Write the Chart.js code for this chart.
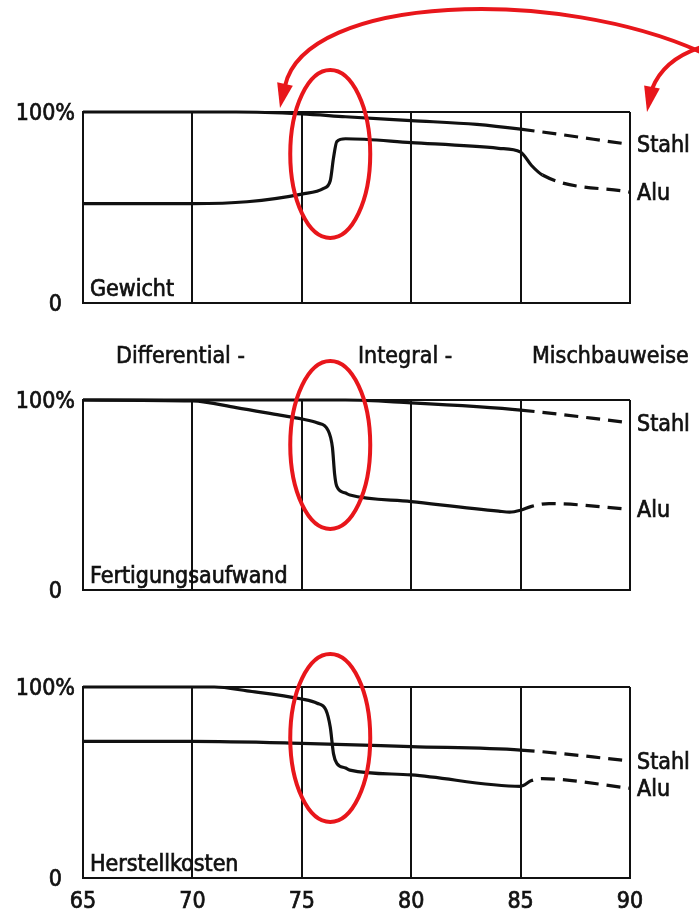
<!DOCTYPE html>
<html>
<head>
<meta charset="utf-8">
<script src="https://cdn.jsdelivr.net/npm/chart.js@4/dist/chart.umd.min.js"></script>
<style>
html, body { margin: 0; padding: 0; background: #fff; }
#wrap { position: relative; width: 699px; height: 915px; overflow: hidden; background: #fff; }
canvas { position: absolute; left: 0; top: 0; }
.mid { position: absolute; top: 340px; font: 23px "DejaVu Sans Condensed", "Liberation Sans Narrow", "DejaVu Sans", sans-serif; color: #111; white-space: nowrap; line-height: 30px; -webkit-text-stroke: 0.6px #111; }
</style>
</head>
<body>
<div id="wrap">
  <canvas id="gewicht" width="699" height="915"></canvas>
  <canvas id="fertigung" width="699" height="915"></canvas>
  <canvas id="herstell" width="699" height="915"></canvas>
  <canvas id="marks" width="699" height="915"></canvas>
  <div class="mid" style="left:116px">Differential -</div>
  <div class="mid" style="left:358px">Integral -</div>
  <div class="mid" style="left:532px">Mischbauweise</div>
</div>
<script>
// values (percent of the 1965 level)
const xTicks = [65, 70, 75, 80, 85, 90];

const gewichtStahlYears = [65, 72, 75, 77, 80, 83, 85, 90];
const gewichtStahl = [100, 100, 99, 97.5, 95.5, 93.5, 91, 83];
const gewichtAluYears = [65, 70, 72.5, 75, 76, 76.3, 76.45, 76.6, 77, 80, 84, 85, 85.5, 86, 90];
const gewichtAlu = [52, 52, 53, 57, 60, 64, 76, 84.5, 86, 84, 81, 79, 72, 67, 58];

const fertigungStahlYears = [65, 77, 80, 83, 85, 90];
const fertigungStahl = [100, 100, 98.5, 96.5, 94.7, 88];
const fertigungAluYears = [65, 70, 72, 74, 75, 75.7, 76.2, 76.4, 76.5, 76.6, 77, 77.2, 80, 84, 84.5, 85, 85.5, 86.3, 90];
const fertigungAlu = [100, 99.5, 96, 92, 90, 88, 84, 75, 61, 54.5, 51, 50, 46.5, 41.5, 41, 42, 44, 45.5, 42.5];

const herstellStahlYears = [65, 70, 75, 80, 85, 90];
const herstellStahl = [71.5, 71.5, 70.5, 68.8, 67, 61.3];
const herstellAluYears = [65, 71, 72.5, 75, 75.7, 76.1, 76.3, 76.45, 76.6, 77, 77.2, 80, 85, 85.5, 86, 90];
const herstellAlu = [100, 100, 98, 93.7, 91.5, 88, 79, 65, 60, 57.6, 56.5, 54, 48, 51, 52, 47];

const FONT = '"DejaVu Sans Condensed", "Liberation Sans Narrow", "DejaVu Sans", sans-serif';
const INK = '#111';
const RED = '#e8161b';

Chart.defaults.animation = false;
Chart.defaults.font.family = FONT;
Chart.defaults.color = INK;

function toPoints(xs, ys) {
    return xs.map((x, i) => ({ x: x, y: ys[i] }));
}

// title inside the box, Stahl/Alu at the line ends, red ring round the jump
const decorPlugin = {
    id: 'decor',
    afterDatasetsDraw(chart, args, opts) {
        const { ctx, chartArea, scales } = chart;
        ctx.save();
        ctx.font = '23px ' + FONT;
        ctx.fillStyle = INK;
        ctx.strokeStyle = INK;
        ctx.lineWidth = 0.7;
        ctx.textAlign = 'left';
        ctx.textBaseline = 'alphabetic';
        const write = (txt, x, y) => { ctx.fillText(txt, x, y); ctx.strokeText(txt, x, y); };
        write(opts.title, chartArea.left + 7, chartArea.bottom - 7);
        ctx.textBaseline = 'middle';
        chart.data.datasets.forEach((ds, i) => {
            const meta = chart.getDatasetMeta(i);
            const last = meta.data[meta.data.length - 1];
            write(ds.label, chartArea.right + 7, last.y + 2);
        });
        ctx.strokeStyle = RED;
        ctx.lineWidth = 4;
        ctx.beginPath();
        ctx.ellipse(scales.x.getPixelForValue(opts.ringX), scales.y.getPixelForValue(opts.ringY), 40, 84, 0, 0, Math.PI * 2);
        ctx.stroke();
        ctx.restore();
    }
};

function makePanel(id, title, stahlX, stahlY, aluX, aluY, aluDashFrom, pad, showX, ringY) {
    const ctx = document.getElementById(id).getContext('2d');
    const line = (label, xs, ys, dashFrom) => ({
        label: label,
        data: toPoints(xs, ys),
        borderColor: INK,
        borderWidth: 3.2,
        pointRadius: 0,
        cubicInterpolationMode: 'monotone',
        clip: false,
        segment: {
            borderDash: c => (c.p0.parsed.x >= dashFrom ? [14, 8] : undefined)
        }
    });
    return new Chart(ctx, {
        type: 'line',
        data: {
            datasets: [
                line('Stahl', stahlX, stahlY, 85),
                line('Alu', aluX, aluY, aluDashFrom)
            ]
        },
        options: {
            responsive: false,
            layout: { padding: pad },
            plugins: {
                legend: { display: false },
                tooltip: { enabled: false },
                decor: { title: title, ringX: 76.3, ringY: ringY }
            },
            scales: {
                x: {
                    type: 'linear',
                    min: 65,
                    max: 90,
                    afterBuildTicks: s => { s.ticks = xTicks.map(v => ({ value: v })); },
                    afterFit: s => { s.height = showX ? 37 : 0; },
                    ticks: { display: showX, padding: 10, font: { size: 23 }, color: INK, textStrokeColor: INK, textStrokeWidth: 0.7 },
                    grid: { color: INK, lineWidth: 2, drawTicks: false },
                    border: { color: INK, width: 2 }
                },
                y: {
                    min: 0,
                    max: 100,
                    afterFit: s => { s.width = 83; },
                    ticks: {
                        stepSize: 100,
                        padding: 8,
                        labelOffset: 2,
                        font: { size: 23 },
                        color: INK,
                        textStrokeColor: INK,
                        textStrokeWidth: 0.7,
                        callback: v => (v === 100 ? '100%' : v === 0 ? '0  ' : '')
                    },
                    grid: { color: INK, lineWidth: 2, drawTicks: false },
                    border: { color: INK, width: 2 }
                }
            }
        },
        plugins: [decorPlugin]
    });
}

makePanel('gewicht', 'Gewicht', gewichtStahlYears, gewichtStahl, gewichtAluYears, gewichtAlu, 86,
    { left: 0, right: 69, top: 112, bottom: 612 }, false, 78);
makePanel('fertigung', 'Fertigungsaufwand', fertigungStahlYears, fertigungStahl, fertigungAluYears, fertigungAlu, 85,
    { left: 0, right: 69, top: 400, bottom: 325 }, false, 76.3);
makePanel('herstell', 'Herstellkosten', herstellStahlYears, herstellStahl, herstellAluYears, herstellAlu, 85,
    { left: 0, right: 69, top: 687, bottom: 0 }, true, 73.3);

// the two red arrows drawn over the top panel
(function drawArrows() {
    const ctx = document.getElementById('marks').getContext('2d');
    ctx.strokeStyle = RED;
    ctx.fillStyle = RED;
    ctx.lineWidth = 4;
    ctx.lineCap = 'round';

    function head(fromX, fromY, tipX, tipY) {
        const dx = tipX - fromX, dy = tipY - fromY;
        const len = Math.hypot(dx, dy);
        const px = -dy / len * 8, py = dx / len * 8;
        ctx.beginPath();
        ctx.moveTo(tipX, tipY);
        ctx.lineTo(fromX + px, fromY + py);
        ctx.lineTo(fromX - px, fromY - py);
        ctx.closePath();
        ctx.fill();
    }

    ctx.beginPath();
    ctx.moveTo(705, 54);
    ctx.bezierCurveTo(560, -14, 305, -6, 285, 86);
    ctx.stroke();
    head(285, 84, 280, 108);

    ctx.beginPath();
    ctx.moveTo(705, 46);
    ctx.quadraticCurveTo(664, 58, 652, 89);
    ctx.stroke();
    head(652, 87, 647, 112);
})();
</script>
</body>
</html>
